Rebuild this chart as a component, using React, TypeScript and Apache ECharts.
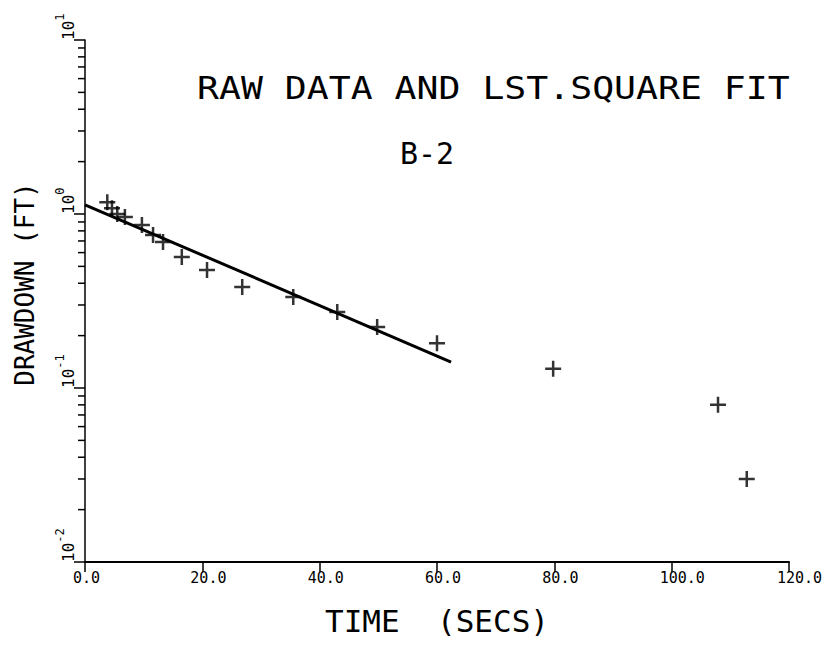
import React, { useEffect, useRef } from "react";
import * as echarts from "echarts";

// Raw drawdown observations (time in seconds, drawdown in feet)
const timeSecs = [3.8, 4.6, 5.5, 6.8, 9.7, 11.6, 13.3, 16.5, 20.8, 26.8, 35.5, 43.0, 49.8, 60.0, 79.8, 107.9, 112.8];
const drawdownFt = [1.17, 1.08, 1.0, 0.96, 0.865, 0.757, 0.69, 0.566, 0.477, 0.38, 0.333, 0.273, 0.224, 0.181, 0.129, 0.08, 0.03];

// Least-square fit line end points
const fitTime = [0, 62.4];
const fitDrawdown = [1.13, 0.141];

// Axis ranges / ticks
const xTicks = [0, 20, 40, 60, 80, 100, 120];
const yDecades = [0.01, 0.1, 1, 10];
const minorMultipliers = [2, 3, 4, 5, 6, 7, 8, 9];

const titleText = "RAW DATA AND LST.SQUARE FIT";
const subTitleText = "B-2";
const xName = "TIME  (SECS)";
const yName = "DRAWDOWN (FT)";

const FONT = "DejaVu Sans Mono";

export default function App() {
  const ref = useRef<HTMLDivElement>(null);

  useEffect(() => {
    if (!ref.current) return;
    const chart = echarts.init(ref.current, undefined, { renderer: "svg" });

    const minorTicks: number[][] = [];
    yDecades.slice(0, -1).forEach((d) => {
      minorMultipliers.forEach((m) => minorTicks.push([0, +(d * m).toPrecision(3)]));
    });

    const option = {
      animation: false,
      backgroundColor: "#ffffff",
      grid: { left: 85, right: 47, top: 40, bottom: 93, containLabel: false, outerBoundsMode: "none" },
      graphic: [
        {
          type: "text",
          left: 197,
          top: 72,
          scaleX: 1.14,
          style: { text: titleText, font: `normal 32px "${FONT}"`, fill: "#000" },
        },
        {
          type: "text",
          left: 400,
          top: 138,
          style: { text: subTitleText, font: `normal 30px "${FONT}"`, fill: "#000" },
        },
      ],
      xAxis: {
        type: "value",
        min: xTicks[0],
        max: xTicks[xTicks.length - 1],
        interval: 20,
        name: xName,
        nameLocation: "middle",
        nameGap: 43,
        nameTextStyle: { fontFamily: FONT, fontSize: 31, color: "#000" },
        axisLine: { show: true, onZero: false, lineStyle: { color: "#000", width: 2 } },
        axisTick: { show: true, inside: false, length: 10, lineStyle: { color: "#000", width: 1.5 } },
        axisLabel: {
          show: true,
          fontFamily: FONT,
          fontSize: 15,
          color: "#000",
          margin: 8,
          align: "left",
          padding: [0, 0, 0, -12],
          formatter: (v: number) => v.toFixed(1),
        },
        splitLine: { show: false },
      },
      yAxis: {
        type: "log",
        logBase: 10,
        min: yDecades[0],
        max: yDecades[yDecades.length - 1],
        name: yName,
        nameLocation: "middle",
        nameRotate: 90,
        nameGap: 47,
        nameTextStyle: { fontFamily: FONT, fontSize: 26, color: "#000", padding: [0, 0, 0, 34] },
        axisLine: { show: true, onZero: false, lineStyle: { color: "#000", width: 1.5 } },
        axisTick: { show: true, inside: false, length: 11, lineStyle: { color: "#000", width: 1.5 } },
        axisLabel: {
          show: true,
          rotate: 90,
          margin: 20,
          align: "left",
          verticalAlign: "middle",
          fontFamily: FONT,
          color: "#000",
          formatter: (v: number) => {
            const e = Math.round(Math.log10(v));
            return `{b|10}{s|${e}}`;
          },
          rich: {
            b: { fontFamily: FONT, fontSize: 16, color: "#000", verticalAlign: "bottom", lineHeight: 22 },
            s: { fontFamily: FONT, fontSize: 12, color: "#000", verticalAlign: "top", lineHeight: 22 },
          },
        },
        splitLine: { show: false },
        minorTick: { show: false },
      },
      series: [
        {
          type: "custom",
          name: "minor ticks",
          silent: true,
          clip: false,
          data: minorTicks,
          encode: { x: 0, y: 1 },
          renderItem: (_params: any, api: any) => {
            const p = api.coord([api.value(0), api.value(1)]);
            return {
              type: "line",
              shape: { x1: p[0] - 7, y1: p[1], x2: p[0], y2: p[1] },
              style: { stroke: "#000", lineWidth: 1.5 },
            };
          },
        },
        {
          type: "line",
          name: "fit",
          data: fitTime.map((t, i) => [t, fitDrawdown[i]]),
          showSymbol: false,
          symbol: "none",
          lineStyle: { color: "#000", width: 3 },
          silent: true,
        },
        {
          type: "scatter",
          name: "raw",
          data: timeSecs.map((t, i) => [t, drawdownFt[i]]),
          symbol: "path://M8 0 L8 16 M0 8 L16 8",
          symbolSize: 16,
          itemStyle: { color: "transparent", borderColor: "#000", borderWidth: 2.5 },
          silent: true,
        },
      ],
    };

    chart.setOption(option as any);
    return () => chart.dispose();
  }, []);

  return (
    <div
      ref={ref}
      style={{ position: "fixed", left: 0, top: 0, width: 836, height: 655, background: "#fff" }}
    />
  );
}
